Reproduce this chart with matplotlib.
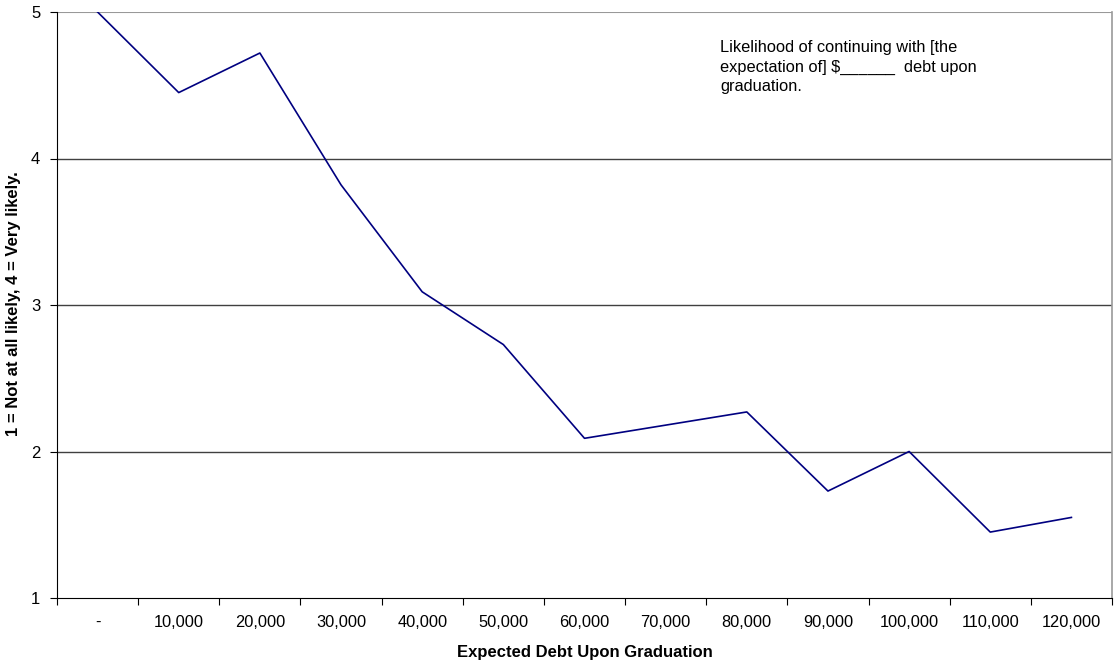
import matplotlib
matplotlib.use("Agg")
import matplotlib.pyplot as plt
import numpy as np

categories = ["-", "10,000", "20,000", "30,000", "40,000", "50,000", "60,000",
              "70,000", "80,000", "90,000", "100,000", "110,000", "120,000"]
values = [5.0, 4.45, 4.72, 3.82, 3.09, 2.73, 2.09, 2.18, 2.27, 1.73, 2.00, 1.45, 1.55]
y_ticks = [1, 2, 3, 4, 5]

plt.rcParams['font.family'] = ['Liberation Sans', 'DejaVu Sans']

fig = plt.figure(figsize=(11.14, 6.65), dpi=100)
ax = fig.add_axes([57/1114, 1-598/665, (1112-57)/1114, (598-12)/665])

n = len(categories)
x = np.arange(n) + 0.5
ax.plot(x, values, color="#000080", lw=1.2, zorder=3)

ax.set_xlim(0, n)
ax.set_ylim(1, 5)
ax.set_yticks(y_ticks)
ax.set_yticklabels([str(v) for v in y_ticks], fontsize=12)
for v in y_ticks[1:-1]:
    ax.axhline(v, color="#404040", lw=1.0, zorder=1)
ax.axhline(5, color="#999999", lw=1.5, zorder=1)

ax.set_xticks(np.arange(n + 1))
ax.set_xticklabels([])
ax.set_xticks(x, minor=True)
ax.set_xticklabels(categories, minor=True, fontsize=11.8)
ax.tick_params(axis='x', which='minor', length=0, pad=12)
ax.tick_params(axis='x', which='major', length=5, direction='out', color='black')
ax.tick_params(axis='y', length=5, direction='out', pad=7)

ax.spines['top'].set_visible(False)
ax.spines['right'].set_color("#999999")
ax.spines['right'].set_linewidth(1.2)
ax.spines['left'].set_color("black")
ax.spines['bottom'].set_color("black")

ax.set_xlabel("Expected Debt Upon Graduation", fontsize=12, fontweight='bold', labelpad=11)
fig.text(14/1114, 1-304/665, "1 = Not at all likely, 4 = Very likely.", fontsize=12, fontweight='bold',
         rotation=90, ha='center', va='center')

fig.text(720/1114, 1-40/665, "Likelihood of continuing with [the\nexpectation of] $______  debt upon\ngraduation.",
         fontsize=11.8, va='top', ha='left', linespacing=1.37)

fig.savefig("out.png", dpi=100)
